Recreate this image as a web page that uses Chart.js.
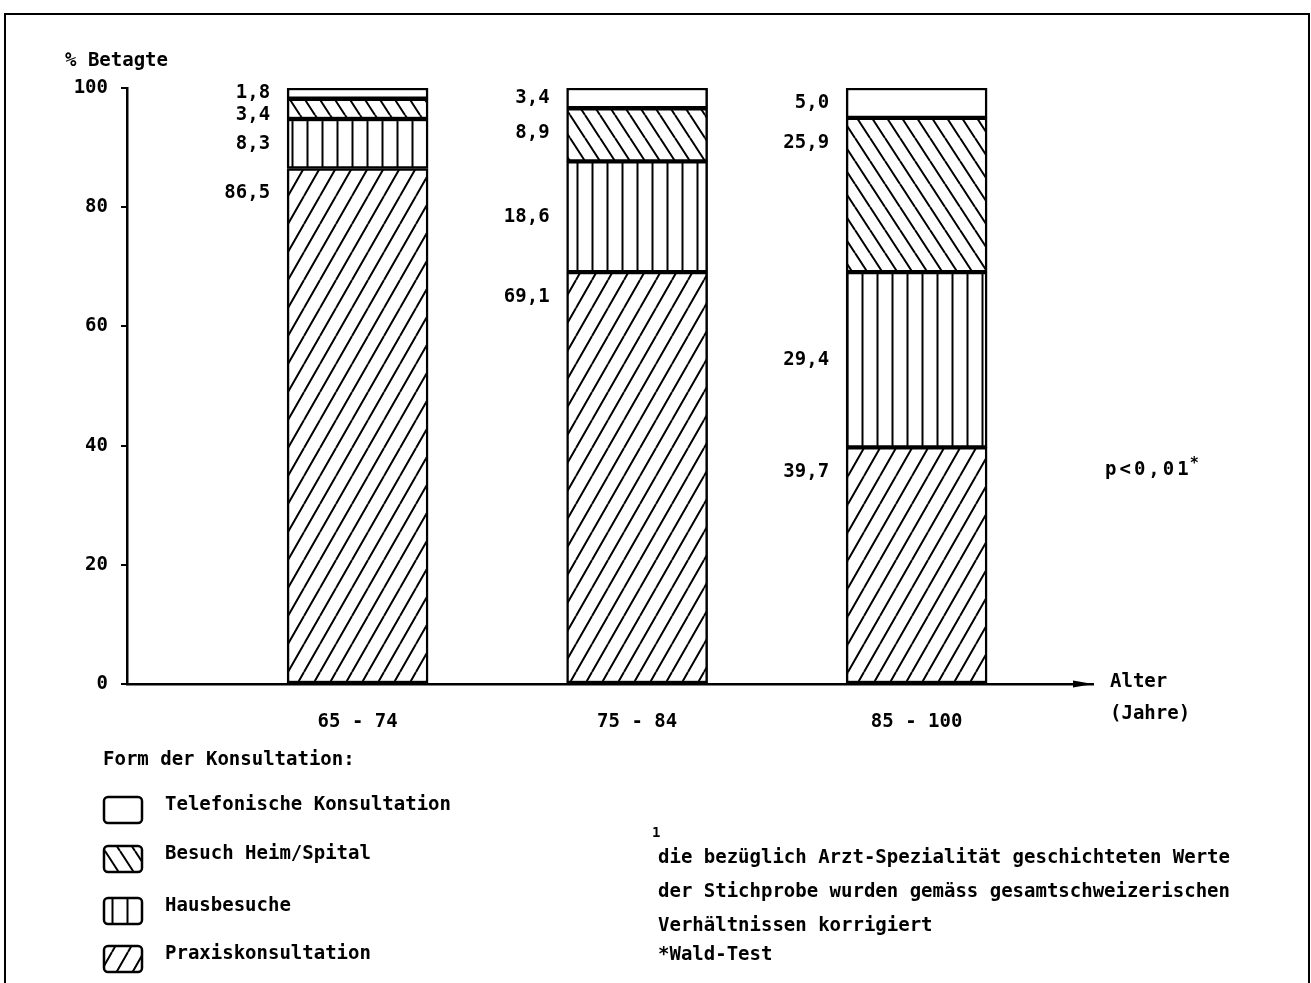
<!DOCTYPE html>
<html>
<head>
<meta charset="utf-8">
<script src="https://cdn.jsdelivr.net/npm/chart.js@4"></script>
<style>
  html, body { margin: 0; padding: 0; background: #fff; }
  #wrap { width: 1311px; height: 983px; }
</style>
</head>
<body>
<div id="wrap"><canvas id="konsChart" width="1311" height="983"></canvas></div>
<script>
// Form der Konsultation nach Alter (% Betagte)
const categories = ["65 - 74", "75 - 84", "85 - 100"];
const seriesNames = ["Praxiskonsultation", "Hausbesuche", "Besuch Heim/Spital", "Telefonische Konsultation"];
const praxis = [86.5, 69.1, 39.7];
const hausbesuche = [8.3, 18.6, 29.4];
const besuchHeim = [3.4, 8.9, 25.9];
const telefon = [1.8, 3.4, 5.0];
const yTicks = [0, 20, 40, 60, 80, 100];

const FAMILY = '"DejaVu Sans Mono", "Liberation Mono", monospace';
const FONT = "bold 19px " + FAMILY;

// hatch patterns like the printed original
function makePattern(kind) {
  if (kind === "none") return "#fff";
  const c = document.createElement("canvas");
  let w = 16, h = 28;
  if (kind === "vert") { w = 15; h = 15; }
  if (kind === "back") { w = 15; h = 23; }
  c.width = w; c.height = h;
  const g = c.getContext("2d");
  g.fillStyle = "#fff";
  g.fillRect(0, 0, w, h);
  g.strokeStyle = "#000";
  g.lineWidth = 2;
  g.beginPath();
  if (kind === "vert") {
    g.moveTo(7.5, 0); g.lineTo(7.5, h);
  } else {
    for (let k = -1; k <= 1; k++) {
      if (kind === "fwd") { g.moveTo(k * w, h); g.lineTo(k * w + w, 0); }
      else { g.moveTo(k * w, 0); g.lineTo(k * w + w, h); }
    }
  }
  g.stroke();
  return g.createPattern(c, "repeat");
}

const fills = [makePattern("fwd"), makePattern("vert"), makePattern("back"), makePattern("none")];
const anchors = ["top", "mid", "top", "top"];
const values = [praxis, hausbesuche, besuchHeim, telefon];

const datasets = values.map((arr, s) => ({
  label: seriesNames[s],
  data: arr.map((v, i) => ({ x: i + 1, y: v })),
  backgroundColor: fills[s],
  borderColor: "#000",
  borderWidth: 2.5,
  borderSkipped: false,
  barThickness: 141,
  labelAnchor: anchors[s]
}));

function fmt(v) {
  return v.toFixed(1).replace(".", ",");
}

const decor = {
  id: "decor",
  beforeDraw(chart) {
    const ctx = chart.ctx;
    ctx.save();
    ctx.strokeStyle = "#000";
    ctx.lineWidth = 2;
    ctx.beginPath();
    ctx.moveTo(5, 983); ctx.lineTo(5, 14); ctx.lineTo(1309, 14); ctx.lineTo(1309, 983);
    ctx.stroke();
    ctx.restore();
  },
  afterDatasetsDraw(chart) {
    const ctx = chart.ctx;
    ctx.save();
    ctx.font = FONT;
    ctx.fillStyle = "#000";
    ctx.textAlign = "right";
    ctx.textBaseline = "middle";
    categories.forEach((c, i) => {
      let prevY = -100;
      for (let s = chart.data.datasets.length - 1; s >= 0; s--) {
        const ds = chart.data.datasets[s];
        const bar = chart.getDatasetMeta(s).data[i];
        const h = bar.base - bar.y;
        let y = ds.labelAnchor === "mid" ? bar.y + h / 2 : bar.y + Math.min(h / 2, 25);
        y = Math.max(y, prevY + 22);
        prevY = y;
        ctx.fillText(fmt(values[s][i]), bar.x - bar.width / 2 - 17, y);
      }
    });
    ctx.restore();
  },
  afterDraw(chart) {
    const ctx = chart.ctx;
    const area = chart.chartArea;
    ctx.save();
    ctx.fillStyle = "#000";
    ctx.strokeStyle = "#000";
    ctx.font = FONT;
    ctx.textBaseline = "middle";
    ctx.textAlign = "left";

    // axis titles
    ctx.fillText("% Betagte", 65, 61);
    ctx.fillText("Alter", 1110, 682);
    ctx.fillText("(Jahre)", 1110, 714);

    // arrow head at the end of the x axis
    ctx.beginPath();
    ctx.moveTo(area.right, area.bottom);
    ctx.lineTo(area.right - 20, area.bottom - 3.5);
    ctx.lineTo(area.right - 20, area.bottom + 3.5);
    ctx.closePath();
    ctx.fill();

    // significance
    if ("letterSpacing" in ctx) ctx.letterSpacing = "3px";
    ctx.fillText("p<0,01", 1105, 470);
    const pw = ctx.measureText("p<0,01").width;
    if ("letterSpacing" in ctx) ctx.letterSpacing = "0px";
    ctx.font = "bold 15px " + FAMILY;
    ctx.fillText("*", 1105 + pw - 2, 464);
    ctx.font = FONT;

    // legend
    ctx.fillText("Form der Konsultation:", 103, 760);
    const rows = [805, 854, 906, 954];
    for (let s = chart.data.datasets.length - 1, r = 0; s >= 0; s--, r++) {
      const ds = chart.data.datasets[s];
      const y = rows[r];
      ctx.beginPath();
      if (ctx.roundRect) ctx.roundRect(104, y - 8, 38, 26, 4);
      else ctx.rect(104, y - 8, 38, 26);
      ctx.fillStyle = ds.backgroundColor;
      ctx.fill();
      ctx.lineWidth = 2.5;
      ctx.stroke();
      ctx.fillStyle = "#000";
      ctx.fillText(ds.label, 165, y);
    }

    // footnotes
    ctx.font = "bold 14px " + FAMILY;
    ctx.fillText("1", 652, 833);
    ctx.font = FONT;
    ctx.fillText("die bezüglich Arzt-Spezialität geschichteten Werte", 658, 858);
    ctx.fillText("der Stichprobe wurden gemäss gesamtschweizerischen", 658, 892);
    ctx.fillText("Verhältnissen korrigiert", 658, 926);
    ctx.fillText("*Wald-Test", 658, 955);
    ctx.restore();
  }
};

const ctx = document.getElementById("konsChart").getContext("2d");
const chart = new Chart(ctx, {
  type: "bar",
  data: { datasets: datasets },
  options: {
    responsive: false,
    animation: false,
    devicePixelRatio: 1,
    layout: { padding: { left: 0, top: 88, right: 218, bottom: 0 } },
    plugins: {
      legend: { display: false },
      tooltip: { enabled: false }
    },
    scales: {
      x: {
        type: "linear",
        stacked: true,
        offset: false,
        min: 0.175,
        max: 3.631,
        afterFit: (scale) => { scale.height = 983 - 684; },
        afterBuildTicks: (scale) => { scale.ticks = categories.map((c, i) => ({ value: i + 1 })); },
        grid: { drawOnChartArea: false, drawTicks: false, offset: false },
        border: { color: "#000", width: 2.5 },
        ticks: {
          autoSkip: false,
          maxRotation: 0,
          padding: 27,
          color: "#000",
          font: { family: FAMILY, size: 19, weight: "bold" },
          callback: (v) => categories[v - 1]
        }
      },
      y: {
        stacked: true,
        min: 0,
        max: 100,
        afterFit: (scale) => { scale.width = 127; },
        afterBuildTicks: (scale) => { scale.ticks = yTicks.map(v => ({ value: v })); },
        grid: { drawOnChartArea: false, color: "#000", lineWidth: 2, tickLength: 6 },
        border: { color: "#000", width: 2.5 },
        ticks: {
          padding: 13,
          color: "#000",
          font: { family: FAMILY, size: 19, weight: "bold" }
        }
      }
    }
  },
  plugins: [decor]
});
</script>
</body>
</html>
